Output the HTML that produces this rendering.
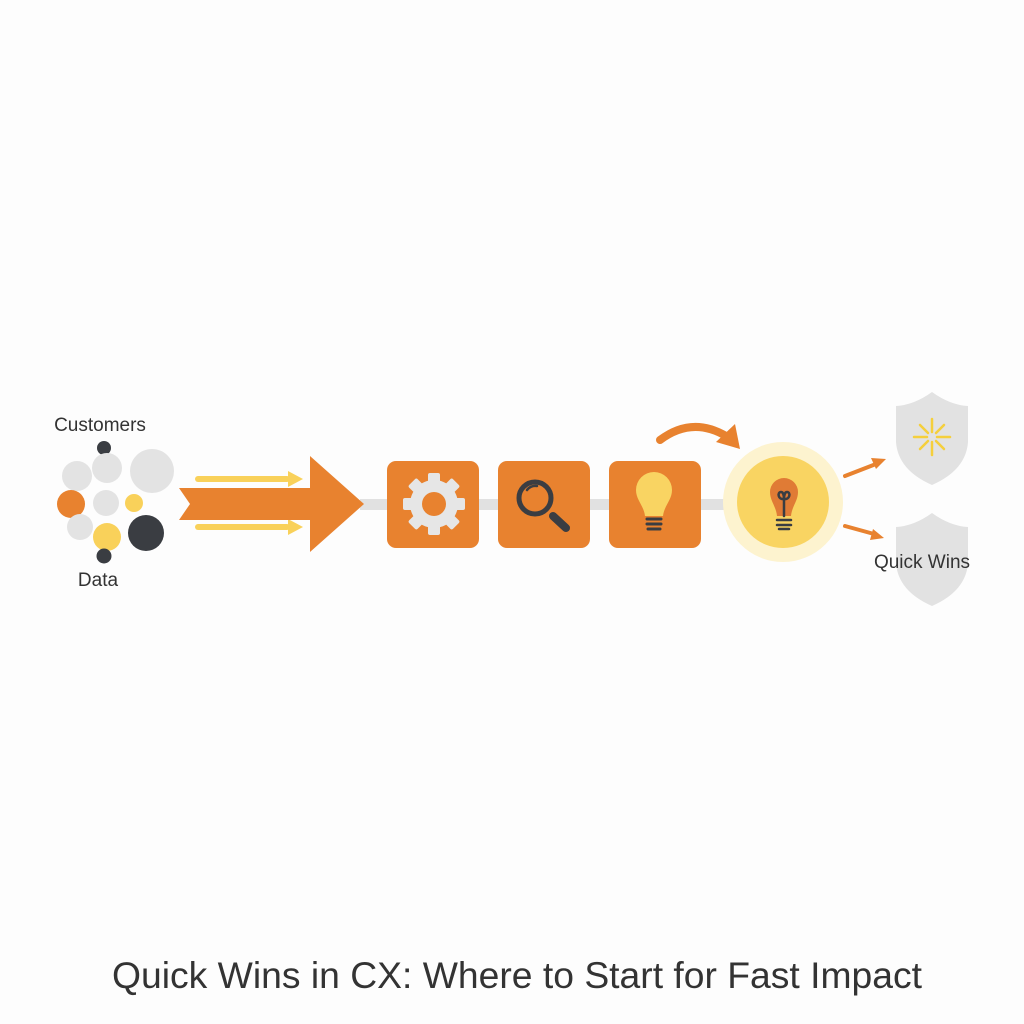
<!DOCTYPE html>
<html><head><meta charset="utf-8"><style>
html,body{margin:0;padding:0;background:#fdfdfd;}
svg{display:block;}
text{font-family:"Liberation Sans",sans-serif;fill:#333;}
</style></head><body>
<svg width="1024" height="1024" viewBox="0 0 1024 1024" xmlns="http://www.w3.org/2000/svg">
<rect width="1024" height="1024" fill="#fdfdfd"/>
<text x="100" y="431" font-size="19" text-anchor="middle">Customers</text>
<text x="98" y="586" font-size="19" text-anchor="middle">Data</text>
<circle cx="104" cy="448" r="7" fill="#3a3d42"/>
<circle cx="77" cy="476" r="15" fill="#e3e3e3"/>
<circle cx="107" cy="468" r="15" fill="#e3e3e3"/>
<circle cx="152" cy="471" r="22" fill="#e3e3e3"/>
<circle cx="71" cy="504" r="14" fill="#e8822f"/>
<circle cx="106" cy="503" r="13" fill="#e3e3e3"/>
<circle cx="134" cy="503" r="9" fill="#f9d15a"/>
<circle cx="80" cy="527" r="13" fill="#e3e3e3"/>
<circle cx="107" cy="537" r="14" fill="#f9d15a"/>
<circle cx="146" cy="533" r="18" fill="#3a3d42"/>
<circle cx="104" cy="556" r="7.5" fill="#3a3d42"/>
<rect x="360" y="499" width="372" height="11" fill="#e1e1e1"/>
<g fill="#f9d15a">
<rect x="195" y="476" width="95" height="6" rx="3"/><polygon points="288,471 303,479 288,487"/>
<rect x="195" y="524" width="95" height="6" rx="3"/><polygon points="288,519 303,527 288,535"/>
</g>
<polygon points="179,488 310,488 310,456 364,504 310,552 310,520 179,520 190,504" fill="#e8822f"/>
<g fill="#e8822f">
<rect x="387" y="461" width="92" height="87" rx="9"/>
<rect x="498" y="461" width="92" height="87" rx="9"/>
<rect x="609" y="461" width="92" height="87" rx="9"/>
</g>
<g fill="#e6e6e6" transform="translate(434,504)">
<circle r="24"/>
<rect x="-6" y="-31" width="12" height="14" rx="2"/>
<rect x="-6" y="-31" width="12" height="14" rx="2" transform="rotate(45)"/>
<rect x="-6" y="-31" width="12" height="14" rx="2" transform="rotate(90)"/>
<rect x="-6" y="-31" width="12" height="14" rx="2" transform="rotate(135)"/>
<rect x="-6" y="-31" width="12" height="14" rx="2" transform="rotate(180)"/>
<rect x="-6" y="-31" width="12" height="14" rx="2" transform="rotate(225)"/>
<rect x="-6" y="-31" width="12" height="14" rx="2" transform="rotate(270)"/>
<rect x="-6" y="-31" width="12" height="14" rx="2" transform="rotate(315)"/>
<circle r="12" fill="#e8822f"/>
</g>
<circle cx="535" cy="498" r="16" fill="none" stroke="#3a3d42" stroke-width="5"/>
<path d="M527,490 A10,10 0 0 1 537,486" fill="none" stroke="#3a3d42" stroke-width="2.5" stroke-linecap="round"/>
<line x1="553" y1="516" x2="566" y2="528" stroke="#3a3d42" stroke-width="8" stroke-linecap="round"/>
<path d="M636,490 A18,18 0 1 1 672,490 C672,500 664,506 663,516 L645,516 C644,506 636,500 636,490 Z" fill="#f9d462"/>
<g stroke="#3a3d42" stroke-width="3" stroke-linecap="round">
<line x1="647" y1="519" x2="661" y2="519"/><line x1="647" y1="524" x2="661" y2="524"/><line x1="648" y1="529" x2="660" y2="529"/>
</g>
<path d="M660,440 Q692,416 726,436" fill="none" stroke="#e8822f" stroke-width="8" stroke-linecap="round"/>
<polygon points="740,449 716,442 735,424" fill="#e8822f"/>
<circle cx="783" cy="502" r="60" fill="#fdf3cf"/>
<circle cx="783" cy="502" r="46" fill="#f9d462"/>
<path d="M770,492 A14,14 0 1 1 798,492 C798,501 792,506 791,516 L777,516 C776,506 770,501 770,492 Z" fill="#e07b35"/>
<g stroke="#3a3d42" stroke-width="2.5" fill="none" stroke-linecap="round">
<line x1="784" y1="499" x2="784" y2="516"/>
<path d="M784,499 C778,500 777,492 781,492 C783,492 784,495 784,499 C784,495 785,492 787,492 C791,492 790,500 784,499"/>
<line x1="777" y1="520" x2="791" y2="520"/><line x1="777" y1="525" x2="791" y2="525"/><line x1="779" y1="529" x2="789" y2="529"/>
</g>
<g stroke="#e8822f" stroke-width="4" stroke-linecap="round">
<line x1="845" y1="476" x2="876" y2="464"/><line x1="845" y1="526" x2="874" y2="534"/>
</g>
<polygon points="886,459 871,458 876,469" fill="#e8822f"/>
<polygon points="884,538 873,529 870,540" fill="#e8822f"/>
<path d="M932,392 Q950,405 968,406 L968,442 Q966,470 932,485 Q898,470 896,442 L896,406 Q914,405 932,392 Z" fill="#e2e2e2"/>
<path d="M932,513 Q950,526 968,527 L968,563 Q966,591 932,606 Q898,591 896,563 L896,527 Q914,526 932,513 Z" fill="#e2e2e2"/>
<g stroke="#f5cf3c" stroke-width="2.5" stroke-linecap="round" transform="translate(932,437)">
<line x1="0" y1="-5" x2="0" y2="-18"/><line x1="0" y1="5" x2="0" y2="18"/>
<line x1="-5" y1="0" x2="-18" y2="0"/><line x1="5" y1="0" x2="18" y2="0"/>
<line x1="4" y1="-4" x2="12" y2="-12"/><line x1="-4" y1="-4" x2="-12" y2="-12"/>
<line x1="4" y1="4" x2="12" y2="12"/><line x1="-4" y1="4" x2="-12" y2="12"/>
</g>
<text x="922" y="568" font-size="19" text-anchor="middle">Quick Wins</text>
<text x="517" y="988" font-size="37" text-anchor="middle" textLength="810" lengthAdjust="spacingAndGlyphs">Quick Wins in CX: Where to Start for Fast Impact</text>
</svg>
</body></html>
